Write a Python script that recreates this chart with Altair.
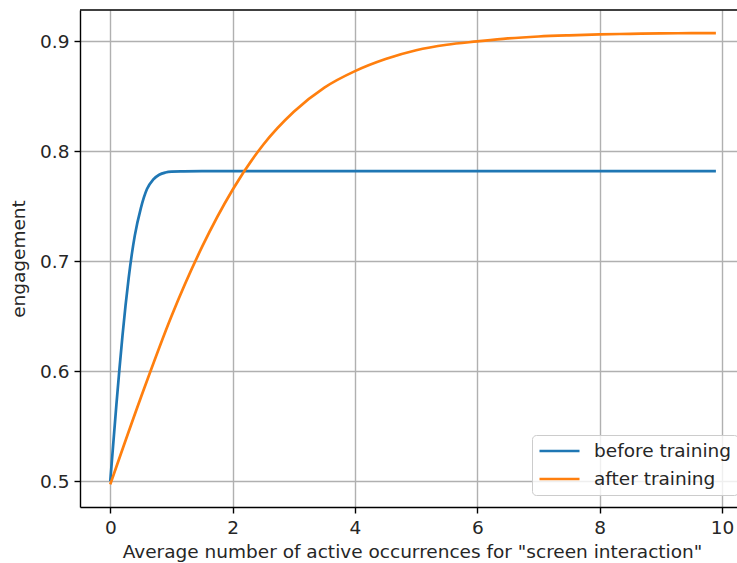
import altair as alt
import pandas as pd

# Engagement vs. average active occurrences, before and after training
x_before = [0.0, 0.05, 0.1, 0.15, 0.2, 0.25, 0.3, 0.35, 0.4, 0.5, 0.6, 0.7,
            0.8, 0.9, 1.0, 1.2, 1.5, 2.0, 3.0, 4.0, 5.0, 6.0, 7.0, 8.0, 9.0, 9.9]
y_before = [0.500, 0.535, 0.5695, 0.602, 0.6326, 0.660, 0.6844, 0.7056, 0.7231,
            0.7484, 0.7657, 0.7742, 0.7787, 0.7807, 0.7815, 0.7818, 0.782,
            0.782, 0.782, 0.782, 0.782, 0.782, 0.782, 0.782, 0.782, 0.782]

x_after = [0.0, 0.5, 1.0, 1.5, 2.0, 2.5, 3.0, 3.5, 4.0, 4.5, 5.0, 5.5, 6.0,
           6.5, 7.0, 7.5, 8.0, 8.5, 9.0, 9.5, 9.9]
y_after = [0.497, 0.576, 0.650, 0.713, 0.765, 0.806, 0.836, 0.858, 0.873,
           0.884, 0.892, 0.897, 0.900, 0.9027, 0.9045, 0.9056, 0.9064, 0.9069,
           0.9073, 0.9075, 0.9076]

series = ["before training", "after training"]
colors = ["#1f77b4", "#ff7f0e"]

x_ticks = [0, 2, 4, 6, 8, 10]
y_ticks = [0.5, 0.6, 0.7, 0.8, 0.9]

df = pd.concat([
    pd.DataFrame({"x": x_before, "y": y_before, "series": series[0]}),
    pd.DataFrame({"x": x_after, "y": y_after, "series": series[1]}),
])

W, H = 657, 497
FONT = "DejaVu Sans"
FS = 18.5

lines = alt.Chart(df).mark_line(strokeWidth=2.7, interpolate="monotone").encode(
    x=alt.X("x:Q",
            scale=alt.Scale(domain=[-0.495, 10.245], nice=False, zero=False),
            axis=alt.Axis(values=x_ticks, title='Average number of active occurrences for "screen interaction"',
                          titleX=332, labelFlush=False)),
    y=alt.Y("y:Q",
            scale=alt.Scale(domain=[0.4764, 0.9286], nice=False, zero=False),
            axis=alt.Axis(values=y_ticks, format=".1f", title="engagement")),
    color=alt.Color("series:N",
                    scale=alt.Scale(domain=series, range=colors),
                    legend=alt.Legend(title=None, orient="none", legendX=452, legendY=425,
                                      symbolType="stroke", symbolSize=1600,
                                      symbolStrokeWidth=2.7, labelOffset=13,
                                      clipHeight=20, rowPadding=8,
                                      fillColor="rgba(255,255,255,0.8)",
                                      strokeColor="#cccccc", cornerRadius=4,
                                      padding=6)),
    detail="series:N",
)

# top frame line
top = alt.Chart(pd.DataFrame({"k": [0]})).mark_rule(color="black", strokeWidth=1.4).encode(
    x=alt.value(0), x2=alt.value(W), y=alt.value(0)
)

chart = alt.layer(lines, top).properties(
    width=W, height=H,
    autosize=alt.AutoSizeParams(type="none"),
    padding={"left": 80, "top": 10, "right": 0, "bottom": 56},
    background="white",
).configure_view(stroke=None).configure_axis(
    labelFont=FONT, titleFont=FONT, labelFontSize=FS, titleFontSize=FS,
    labelColor="#262626", titleColor="#262626", titleFontWeight="normal",
    domainColor="black", domainWidth=1.4,
    tickColor="black", tickWidth=1.4, tickSize=6,
    gridColor="#b0b0b0", gridWidth=1.4, labelPadding=5,
).configure_axisX(titlePadding=6).configure_axisY(titlePadding=11).configure_legend(
    labelFont=FONT, labelFontSize=FS, labelColor="#262626",
)

chart.save("out.html", embed_options={"renderer": "svg", "actions": False})
